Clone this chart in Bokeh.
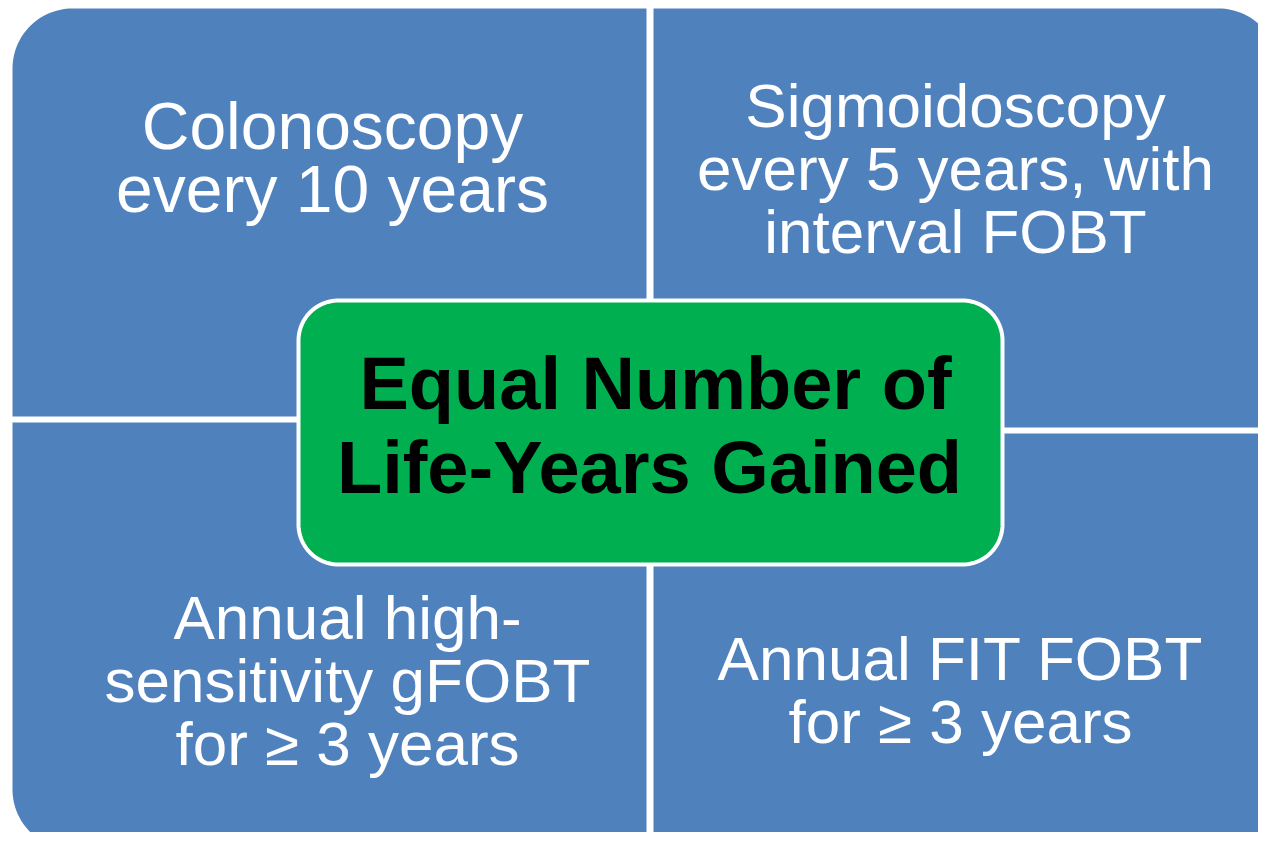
import numpy as np
from bokeh.plotting import figure
from bokeh.models import Range1d
from bokeh.core.properties import value
from bokeh.embed import file_html
from bokeh.resources import INLINE

# ---- content ----
quadrant_labels = [
    ["Colonoscopy", "every 10 years"],
    ["Sigmoidoscopy", "every 5 years, with", "interval FOBT"],
    ["Annual high-", "sensitivity gFOBT", "for \u2265 3 years"],
    ["Annual FIT FOBT", "for \u2265 3 years"],
]
center_label = ["Equal Number of", "Life-Years Gained"]

# ---- layout / style (screen-pixel coordinates of the reference) ----
BLUE = "#4F81BD"
GREEN = "#00B050"
W, H = 1258, 832
quad_boxes = [  # x0, y0, x1, y1, rounded corner
    (12, 8, 646, 416, "tl"),
    (653, 8, 1278, 427, "tr"),
    (12, 422, 646, 849, "bl"),
    (653, 433, 1278, 849, "br"),
]
OUTER_R = 60
label_x = [332, 955, 347, 960]
label_first_baseline = [152, 130, 642, 683]
label_size = [66, 62, 62, 62]
LINE_STEP = 63
center_box = (298, 300, 1002, 564)
CENTER_R = 40
center_x = [655, 649]
center_baseline = [413, 497]
CENTER_SIZE = 74
BASELINE_SHIFT = 0.4  # em, compensates renderer baseline offset


def rounded_rect(x0, y0, x1, y1, radii, n=30):
    r_tl, r_tr, r_br, r_bl = radii
    xs, ys = [], []
    specs = [
        (x0 + r_tl, y0 + r_tl, r_tl, np.pi, 1.5 * np.pi, (x0, y0)),
        (x1 - r_tr, y0 + r_tr, r_tr, 1.5 * np.pi, 2 * np.pi, (x1, y0)),
        (x1 - r_br, y1 - r_br, r_br, 0, 0.5 * np.pi, (x1, y1)),
        (x0 + r_bl, y1 - r_bl, r_bl, 0.5 * np.pi, np.pi, (x0, y1)),
    ]
    for cx, cy, r, a0, a1, corner in specs:
        if r <= 0:
            xs.append(corner[0]); ys.append(corner[1])
        else:
            a = np.linspace(a0, a1, n)
            xs.extend(list(cx + r * np.cos(a)))
            ys.extend(list(cy + r * np.sin(a)))
    return xs, ys


p = figure(width=W, height=H, output_backend="svg", toolbar_location=None,
           x_range=Range1d(0, W), y_range=Range1d(H, 0),
           min_border=0, outline_line_color=None, background_fill_color="white",
           border_fill_color="white")
p.axis.visible = False
p.grid.visible = False

qx, qy = [], []
for x0, y0, x1, y1, corner in quad_boxes:
    radii = [OUTER_R if c == corner else 0 for c in ("tl", "tr", "br", "bl")]
    xs, ys = rounded_rect(x0, y0, x1, y1, radii)
    qx.append(xs); qy.append(ys)
p.patches(qx, qy, fill_color=BLUE, line_color=None)

cx, cy = rounded_rect(*center_box, [CENTER_R] * 4)
p.patch(cx, cy, fill_color=GREEN, line_color="white", line_width=4)

for i, lines in enumerate(quadrant_labels):
    size = label_size[i]
    ys = [label_first_baseline[i] + j * LINE_STEP - BASELINE_SHIFT * size
          for j in range(len(lines))]
    p.text(x=[label_x[i]] * len(lines), y=ys, text=lines, text_color="white",
           text_align="center", text_baseline="alphabetic",
           text_font=value("Liberation Sans"), text_font_size=f"{size}px")

p.text(x=center_x, y=[b - BASELINE_SHIFT * CENTER_SIZE for b in center_baseline],
       text=center_label, text_color="black",
       text_align="center", text_baseline="alphabetic",
       text_font=value("Liberation Sans"), text_font_style="bold",
       text_font_size=f"{CENTER_SIZE}px")

open("out.html", "w").write(file_html(p, INLINE))
